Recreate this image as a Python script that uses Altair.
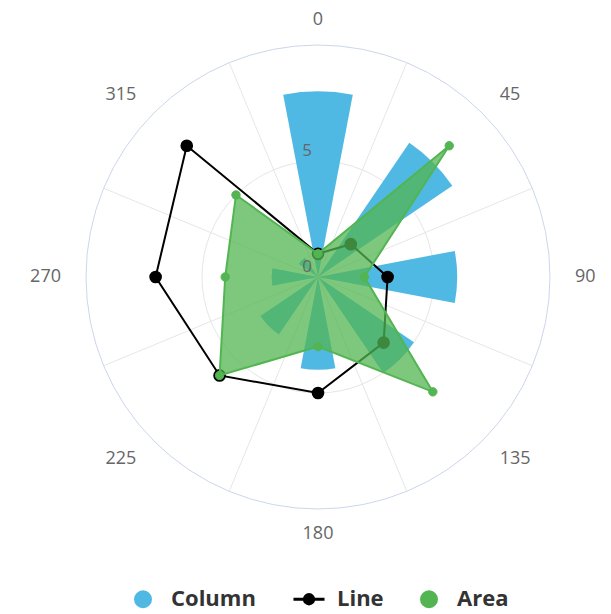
import math
import altair as alt
import pandas as pd

# ---- data ----
angles = [0, 45, 90, 135, 180, 225, 270, 315]
angle_labels = ["0", "45", "90", "135", "180", "225", "270", "315"]
column_values = [8, 7, 6, 5, 4, 3, 2, 1]
line_values = [1, 2, 3, 4, 5, 6, 7, 8]
area_values = [1, 8, 2, 7, 3, 6, 4, 5]
series_names = ["Column", "Line", "Area"]
series_colors = ["#4fb9e3", "#000000", "#52b552"]
y_ticks = [0, 5]
y_tick_labels = ["0", "5"]
axis_max = 10

# ---- layout ----
SIDE = 464
R = SIDE / 2
PX = R / axis_max           # px per unit
LABEL_R = 257 / PX          # label radius in data units
COL_HALF = 45 * 0.6 * 0.8 / 2

xs = alt.Scale(domain=[-axis_max, axis_max])
ys = alt.Scale(domain=[-axis_max, axis_max])
theta_scale = alt.Scale(domain=[0, 360], range=[0, 2 * math.pi])
radius_scale = alt.Scale(type="linear", domain=[0, axis_max], range=[0, R])

TO_XY = {
    "px": "datum.value * sin(datum.angle * PI / 180)",
    "py": "datum.value * cos(datum.angle * PI / 180)",
}

col_df = pd.DataFrame({"angle": angles, "value": column_values, "series": series_names[0]})
line_df = pd.DataFrame({"angle": angles, "value": line_values, "series": series_names[1]})
area_df = pd.DataFrame({"angle": angles, "value": area_values, "series": series_names[2]})
lab_df = pd.DataFrame({"angle": angles, "label": angle_labels})
ytick_df = pd.DataFrame({"value": y_ticks, "label": y_tick_labels})
grid_df = pd.DataFrame({"value": [5, axis_max]})

X = lambda f: alt.X(f, scale=xs, axis=None)
Y = lambda f: alt.Y(f, scale=ys, axis=None)

# spokes (between categories)
spokes = (
    alt.Chart(lab_df)
    .transform_calculate(
        z="0",
        ex=f"{axis_max} * sin((datum.angle + 22.5) * PI / 180)",
        ey=f"{axis_max} * cos((datum.angle + 22.5) * PI / 180)",
    )
    .mark_rule(color="#e6e6e6", strokeWidth=1)
    .encode(x=X("z:Q"), y=Y("z:Q"), x2="ex:Q", y2="ey:Q")
)

inner_circle = (
    alt.Chart(grid_df)
    .transform_filter(f"datum.value < {axis_max}")
    .mark_arc(filled=False, stroke="#e6e6e6", strokeWidth=1, theta=0, theta2=2 * math.pi)
    .encode(radius=alt.Radius("value:Q", scale=radius_scale))
)
outer_circle = (
    alt.Chart(grid_df)
    .transform_filter(f"datum.value >= {axis_max}")
    .mark_arc(filled=False, stroke="#ccd6eb", strokeWidth=1, theta=0, theta2=2 * math.pi)
    .encode(radius=alt.Radius("value:Q", scale=radius_scale))
)

columns = (
    alt.Chart(col_df)
    .transform_calculate(t0=f"datum.angle - {COL_HALF}", t1=f"datum.angle + {COL_HALF}")
    .mark_arc(color=series_colors[0])
    .encode(
        theta=alt.Theta("t0:Q", stack=None, scale=theta_scale),
        theta2="t1:Q",
        radius=alt.Radius("value:Q", scale=radius_scale),
    )
)

line = (
    alt.Chart(line_df)
    .transform_calculate(**TO_XY)
    .mark_line(color=series_colors[1], strokeWidth=2, interpolate="linear-closed")
    .encode(x=X("px:Q"), y=Y("py:Q"), order="angle:Q")
)
line_pts = (
    alt.Chart(line_df)
    .transform_calculate(**TO_XY)
    .mark_point(filled=True, size=160, color=series_colors[1], opacity=1)
    .encode(x=X("px:Q"), y=Y("py:Q"))
)

area = (
    alt.Chart(area_df)
    .transform_calculate(**TO_XY)
    .mark_line(
        stroke=series_colors[2], strokeWidth=2, fill=series_colors[2],
        fillOpacity=0.75, interpolate="linear-closed",
    )
    .encode(x=X("px:Q"), y=Y("py:Q"), order="angle:Q")
)

LINE_PATH = ("M0,-1L0,-1M0,1L0,1"
             "M-2.07,0L2.07,0M-0.62,0A0.62,0.62,0,1,0,0.62,0A0.62,0.62,0,1,0,-0.62,0Z")
legend = alt.Legend(
    title=None, orient="none", legendX=46, legendY=543, direction="horizontal",
    symbolSize=225, symbolStrokeWidth=3, labelFont="Open Sans", labelFontSize=22,
    labelFontWeight="bold", labelColor="#333333", labelOffset=17, columnPadding=31,
    padding=0,
)
area_pts = (
    alt.Chart(area_df)
    .transform_calculate(**TO_XY)
    .mark_point(filled=True, size=70, opacity=1, strokeWidth=1)
    .encode(
        x=X("px:Q"), y=Y("py:Q"),
        color=alt.Color("series:N", scale=alt.Scale(domain=series_names, range=series_colors), legend=legend),
        stroke=alt.Stroke("series:N", scale=alt.Scale(domain=series_names, range=series_colors), legend=legend),
        shape=alt.Shape("series:N", scale=alt.Scale(domain=series_names, range=["circle", LINE_PATH, "circle"]), legend=legend),
    )
)

label_base = alt.Chart(lab_df).transform_calculate(
    px=f"{LABEL_R} * sin(datum.angle * PI / 180)",
    py=f"{LABEL_R} * cos(datum.angle * PI / 180)",
)
label_style = dict(font="Open Sans", fontSize=18, color="#666666", baseline="middle")
labels_c = label_base.transform_filter("datum.angle % 180 == 0").mark_text(align="center", **label_style).encode(
    x=X("px:Q"), y=Y("py:Q"), text="label:N")
labels_l = label_base.transform_filter("datum.angle > 0 && datum.angle < 180").mark_text(align="left", **label_style).encode(
    x=X("px:Q"), y=Y("py:Q"), text="label:N")
labels_r = label_base.transform_filter("datum.angle > 180").mark_text(align="right", **label_style).encode(
    x=X("px:Q"), y=Y("py:Q"), text="label:N")

ylabels = (
    alt.Chart(ytick_df)
    .transform_calculate(z="0")
    .mark_text(font="Open Sans", fontSize=17, color="#666666", align="center", baseline="middle", dx=-11, dy=-10)
    .encode(x=X("z:Q"), y=Y("value:Q"), text="label:N")
)

chart = (
    alt.layer(
        spokes, inner_circle, outer_circle, columns, line, line_pts, area, area_pts,
        labels_c, labels_l, labels_r, ylabels,
    )
    .properties(
        width=SIDE, height=SIDE,
        padding={"left": 78, "top": 37, "right": 50, "bottom": 103},
        autosize=alt.AutoSizeParams(type="none"),
    )
    .configure_view(stroke=None)
)

chart.save("out.html", embed_options={"renderer": "svg", "actions": False})
